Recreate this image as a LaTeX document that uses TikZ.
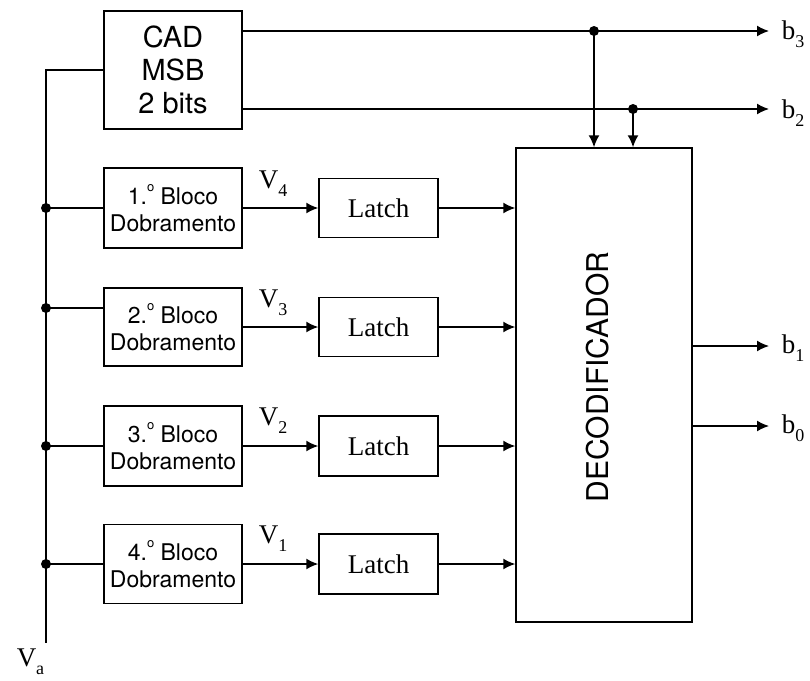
\documentclass[tikz,border=0pt]{standalone}
\usepackage{fontspec}
\setmainfont{Liberation Serif}
\setsansfont{TeX Gyre Heros}
\usetikzlibrary{arrows.meta}
\newcommand{\lsub}[1]{\raisebox{-0.3em}{\fontsize{18}{18}\selectfont #1}}
\newcommand{\ordo}{\raisebox{0.55em}{\fontsize{13}{13}\selectfont o}}
\begin{document}
\begin{tikzpicture}[x=1pt,y=-1pt,line width=1.5pt,
  blk/.style={draw,line width=1.5pt,inner sep=0pt,align=center},
  cadfont/.style={font=\sffamily\fontsize{29}{33}\selectfont},
  blkfont/.style={font=\sffamily\fontsize{23}{27}\selectfont},
  serif/.style={font=\fontsize{27}{30}\selectfont,inner sep=0pt},
  arr/.style={-{Latex[length=12pt,width=11pt]}},
  dot/.style={circle,fill,inner sep=0pt,minimum size=10pt}]
\useasboundingbox (0,0) rectangle (810,680);

% CAD
\node[blk,cadfont,minimum width=138pt,minimum height=118pt] (cad) at (173,70) {CAD\\MSB\\2 bits};

% Bloco boxes
\node[blk,blkfont,minimum width=138pt,minimum height=80pt] (blk1) at (173,208) {1.\ordo\ Bloco\\Dobramento};
\node[blk,blkfont,minimum width=138pt,minimum height=78pt] (blk2) at (173,327) {2.\ordo\ Bloco\\Dobramento};
\node[blk,blkfont,minimum width=138pt,minimum height=80pt] (blk3) at (173,446) {3.\ordo\ Bloco\\Dobramento};
\node[blk,blkfont,minimum width=138pt,minimum height=79pt] (blk4) at (173,564) {4.\ordo\ Bloco\\Dobramento};

% Latches
\node[blk,serif,minimum width=119pt,minimum height=59pt] (l1) at (378.5,208) {Latch};
\node[blk,serif,minimum width=119pt,minimum height=59pt] (l2) at (378.5,327) {Latch};
\node[blk,serif,minimum width=119pt,minimum height=60pt] (l3) at (378.5,446) {Latch};
\node[blk,serif,minimum width=119pt,minimum height=60pt] (l4) at (378.5,564) {Latch};

% Decoder
\node[blk,minimum width=176pt,minimum height=474pt] (dec) at (604,385) {};
\node[font=\sffamily\fontsize{30}{36}\selectfont,rotate=90,inner sep=0pt] (dectext) at (598,377) {DECODIFICADOR};

% input bus
\coordinate (vbot) at (46,643);
\coordinate (j1) at (46,208);
\coordinate (j2) at (46,308);
\coordinate (j3) at (46,446);
\coordinate (j4) at (46,564);
\draw (cad.west) -| (vbot);
\draw (j1) -- (j1 -| blk1.west);
\draw (j2) -- (j2 -| blk2.west);
\draw (j3) -- (j3 -| blk3.west);
\draw (j4) -- (j4 -| blk4.west);
\node[dot] at (j1) {};
\node[dot] at (j2) {};
\node[dot] at (j3) {};
\node[dot] at (j4) {};

% bloco -> latch
\draw[arr] (blk1.east) -- (l1.west);
\draw[arr] (blk2.east) -- (l2.west);
\draw[arr] (blk3.east) -- (l3.west);
\draw[arr] (blk4.east) -- (l4.west);

% latch -> decoder
\draw[arr] (l1.east) -- (l1.east -| dec.west);
\draw[arr] (l2.east) -- (l2.east -| dec.west);
\draw[arr] (l3.east) -- (l3.east -| dec.west);
\draw[arr] (l4.east) -- (l4.east -| dec.west);

% CAD outputs
\coordinate (b3end) at (769,31);
\coordinate (b2end) at (769,109);
\coordinate (d3) at (594,31);
\coordinate (d2) at (633,109);
\draw[arr] (cad.east |- b3end) -- (b3end);
\draw[arr] (cad.east |- b2end) -- (b2end);
\draw[arr] (d3) -- (d3 |- dec.north);
\draw[arr] (d2) -- (d2 |- dec.north);
\node[dot] at (d3) {};
\node[dot] at (d2) {};

% decoder outputs
\coordinate (b1end) at (769,346);
\coordinate (b0end) at (769,426);
\draw[arr] (b1end -| dec.east) -- (b1end);
\draw[arr] (b0end -| dec.east) -- (b0end);

% labels
\node[serif,anchor=base west] (lb3) at (781,39) {b\lsub{3}};
\node[serif,anchor=base west] (lb2) at (781,118) {b\lsub{2}};
\node[serif,anchor=base west] (lb1) at (781,353) {b\lsub{1}};
\node[serif,anchor=base west] (lb0) at (781,433) {b\lsub{0}};
\node[serif,anchor=base west] (v4) at (258,188) {V\lsub{4}};
\node[serif,anchor=base west] (v3) at (258,307) {V\lsub{3}};
\node[serif,anchor=base west] (v2) at (258,425) {V\lsub{2}};
\node[serif,anchor=base west] (v1) at (258,543) {V\lsub{1}};
\node[serif,anchor=base west] (va) at (16,666) {V\lsub{a}};
\end{tikzpicture}
\end{document}
